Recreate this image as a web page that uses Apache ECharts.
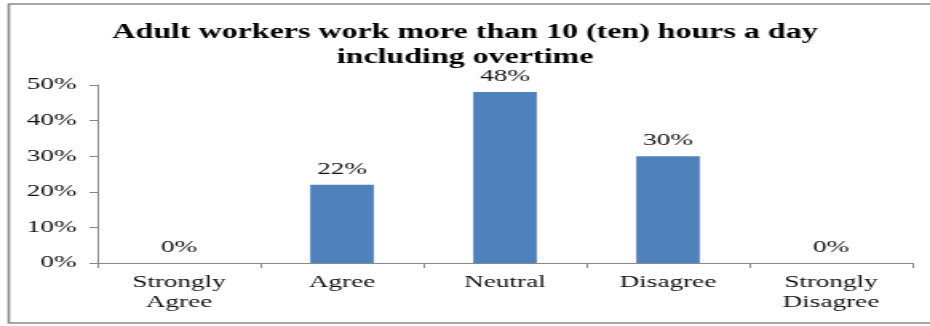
<!DOCTYPE html>
<html>
<head>
<meta charset="utf-8">
<script src="https://cdn.jsdelivr.net/npm/echarts@6/dist/echarts.min.js"></script>
<style>
html,body{margin:0;padding:0;background:#fff;overflow:hidden;}
#wrap{width:582px;height:326px;transform:scaleX(1.598);transform-origin:0 0;}
#main{width:582px;height:326px;}
</style>
</head>
<body>
<div id="wrap"><div id="main"></div></div>
<script>
var titleText = 'Adult workers work more than 10 (ten) hours a day\nincluding overtime';
var categories = ['Strongly\nAgree', 'Agree', 'Neutral', 'Disagree', 'Strongly\nDisagree'];
var values = [0, 22, 48, 30, 0];
var yTicks = [0, 10, 20, 30, 40, 50];

var font = "'Times New Roman', 'Liberation Serif', serif";
var chart = echarts.init(document.getElementById('main'), null, {renderer: 'canvas'});
chart.setOption({
  animation: false,
  backgroundColor: '#fff',
  graphic: [{
    type: 'rect', silent: true,
    shape: {x: 5.5, y: 4, width: 640, height: 319},
    style: {fill: 'none', stroke: '#8a8a8a', lineWidth: 1.6}
  }],
  title: {
    text: titleText, left: 'center', top: 15,
    textStyle: {fontFamily: font, fontWeight: 'bold', fontSize: 20, lineHeight: 25, color: '#000'}
  },
  grid: {left: 61, right: 11, top: 85, bottom: 63},
  xAxis: {
    type: 'category', data: categories,
    axisLine: {lineStyle: {color: '#888', width: 1}},
    axisTick: {show: true, length: 5, lineStyle: {color: '#888'}, alignWithLabel: false},
    axisLabel: {fontFamily: font, fontSize: 17, lineHeight: 20, color: '#111', margin: 10, interval: 0}
  },
  yAxis: {
    type: 'value', min: yTicks[0], max: yTicks[yTicks.length - 1], interval: 10,
    axisLine: {show: true, lineStyle: {color: '#888', width: 1}},
    axisTick: {show: true, length: 5, lineStyle: {color: '#888'}},
    splitLine: {show: false},
    axisLabel: {fontFamily: font, fontSize: 17, color: '#111', margin: 13, formatter: '{value}%'}
  },
  series: [{
    type: 'bar', data: values, barWidth: '39%',
    itemStyle: {color: '#4F81BD'},
    label: {show: true, position: 'top', distance: 7, fontFamily: font, fontSize: 17, color: '#111', formatter: '{c}%'}
  }]
});
</script>
</body>
</html>
